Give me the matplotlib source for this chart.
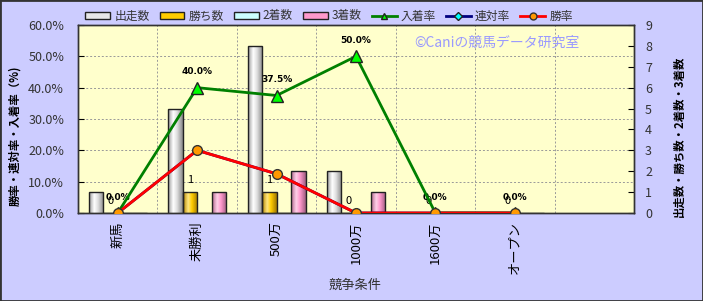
import numpy as np
import matplotlib
matplotlib.use("Agg")
import matplotlib.pyplot as plt
from matplotlib.patches import Rectangle
from matplotlib.lines import Line2D
from matplotlib.colors import LinearSegmentedColormap

plt.rcParams['font.family'] = ['Noto Sans CJK JP', 'DejaVu Sans']

# データ
categories = ['新馬', '未勝利', '500万', '1000万', '1600万', 'オープン', '']
starts = [1, 5, 8, 2, 0, 0, np.nan]
wins = [0, 1, 1, 0, 0, 0, np.nan]
seconds = [0, 0, 0, 0, 0, 0, np.nan]
thirds = [0, 1, 2, 1, 0, 0, np.nan]
place_rate = [0.0, 0.40, 0.375, 0.50, 0.0, 0.0, np.nan]
rentai_rate = [0.0, 0.20, 0.125, 0.0, 0.0, 0.0, np.nan]
win_rate = [0.0, 0.20, 0.125, 0.0, 0.0, 0.0, np.nan]

bg_fig = '#CCCCFF'
bg_plot = '#FFFFCC'

fig = plt.figure(figsize=(7.03, 3.01), dpi=100, facecolor=bg_fig)
ax = fig.add_axes([78 / 703, 1 - 213 / 301, (634 - 78) / 703, (213 - 25) / 301])
ax.set_facecolor(bg_plot)
ax2 = ax.twinx()
x = np.arange(len(categories))
w = 0.183

# 棒グラフ（右軸：件数） 円柱っぽいグラデーション
bar_specs = [
    (starts, ['#9A9A9A', '#FFFFFF', '#E0E0E0', '#8A8A8A'], -1.5),
    (wins, ['#B38600', '#FFE680', '#FFCC00', '#A07800'], -0.5),
    (seconds, ['#80B3B3', '#F0FFFF', '#CCFFFF', '#80A0A0'], 0.5),
    (thirds, ['#B3668C', '#FFD0E8', '#FF99CC', '#A05C80'], 1.5),
]
grad = np.linspace(0, 1, 64).reshape(1, -1)
for vals, cols, off in bar_specs:
    cmap = LinearSegmentedColormap.from_list('bar', list(zip([0, 0.35, 0.6, 1], cols)))
    bars = ax.bar(x + off * w, vals, width=w, facecolor='none', edgecolor='#222222',
                  linewidth=1.0, zorder=4)
    for p in bars:
        bx, by, bw, bh = p.get_x(), p.get_y(), p.get_width(), p.get_height()
        if np.isnan(bh) or bh <= 0:
            continue
        im = ax.imshow(grad, cmap=cmap, extent=[bx, bx + bw, by, by + bh], aspect='auto',
                       interpolation='bilinear', zorder=3)
        im.set_clip_path(p)

ax.set_xlim(-0.5, len(categories) - 0.5)
ax.set_ylim(0, 9)
ax.set_yticks(range(10))
ax.yaxis.tick_right()
ax.tick_params(axis='y', direction='in', length=4, labelsize=9, labelcolor='#333333', pad=8)

# グリッド
for g in np.arange(1.5, 9, 1.5):
    ax.axhline(g, color='#999999', linestyle=(0, (2, 2)), linewidth=0.7, zorder=1)
for b in np.arange(0.5, len(categories) - 0.5, 1):
    ax.axvline(b, color='#999999', linestyle=(0, (2, 2)), linewidth=0.7, zorder=1)

ax.set_xticks(x)
ax.set_xticklabels(categories, rotation=90, fontsize=9.5, va='top', ha='center')
ax.tick_params(axis='x', length=0, pad=6)

for v, xi in zip(wins, x):
    if not np.isnan(v):
        ax.annotate(str(int(v)), (xi - 0.5 * w, v), xytext=(0, 9), textcoords='offset points',
                    ha='center', va='center', fontsize=8, zorder=6)

# 折れ線（左軸：率）
ax2.set_ylim(0, 0.6)
ax2.set_yticks(np.arange(0, 0.61, 0.1))
ax2.set_yticklabels([f'{t * 100:.1f}%' for t in np.arange(0, 0.61, 0.1)])
ax2.yaxis.tick_left()
ax2.tick_params(axis='y', direction='in', length=4, labelsize=9, labelcolor='#333333', pad=10)

ax2.plot(x, rentai_rate, color='#000080', linewidth=2, marker='D', markersize=5,
         markerfacecolor='#00FFFF', markeredgecolor='#222222', zorder=4)
ax2.plot(x, place_rate, color='#008000', linewidth=2, marker='^', markersize=8,
         markerfacecolor='#00FF00', markeredgecolor='#222222', zorder=5)
ax2.plot(x, win_rate, color='#FF0000', linewidth=2, marker='o', markersize=7,
         markerfacecolor='#FF9900', markeredgecolor='#333333', zorder=6)

for v, xi in zip(place_rate, x):
    if not np.isnan(v):
        ax2.annotate(f'{v * 100:.1f}%', (xi, v), xytext=(0, 11.5), textcoords='offset points',
                     ha='center', va='center', fontsize=6.5, fontweight='bold', family='DejaVu Sans')

for a in (ax, ax2):
    for s in a.spines.values():
        s.set_color('#333333')
        s.set_linewidth(1.0)

# 軸タイトル
fig.text(15 / 703, 1 - 136 / 301, '勝率・連対率・入着率（%)', fontsize=8.2, fontweight='bold',
         rotation=90, ha='center', va='center')
fig.text(679 / 703, 1 - 136 / 301, '出走数・勝ち数・2着数・3着数', fontsize=8.2, fontweight='bold',
         rotation=90, ha='center', va='center')
fig.text(355 / 703, 1 - 285 / 301, '競争条件', fontsize=9.5, color='#333333', ha='center', va='center')

fig.text(497 / 703, 1 - 43 / 301, '©Caniの競馬データ研究室', color='#9999FF', fontsize=10,
         ha='center', va='center')

# 凡例
handles = [
    Rectangle((0, 0), 1, 1, facecolor='#E8E8E8', edgecolor='#222222'),
    Rectangle((0, 0), 1, 1, facecolor='#FFCC00', edgecolor='#222222'),
    Rectangle((0, 0), 1, 1, facecolor='#CCFFFF', edgecolor='#222222'),
    Rectangle((0, 0), 1, 1, facecolor='#FF99CC', edgecolor='#222222'),
    Line2D([], [], color='#008000', linewidth=2, marker='^', markersize=5,
           markerfacecolor='#00FF00', markeredgecolor='#222222'),
    Line2D([], [], color='#000080', linewidth=2, marker='D', markersize=4,
           markerfacecolor='#00FFFF', markeredgecolor='#222222'),
    Line2D([], [], color='#FF0000', linewidth=2, marker='o', markersize=5,
           markerfacecolor='#FF9900', markeredgecolor='#333333'),
]
labels = ['出走数', '勝ち数', '2着数', '3着数', '入着率', '連対率', '勝率']
fig.legend(handles, labels, loc='center', bbox_to_anchor=(329 / 703, 1 - 16 / 301), ncol=7,
           frameon=False, fontsize=8.5, handlelength=2.1, handleheight=0.5, handletextpad=0.35,
           columnspacing=0.85, labelcolor='#333333')

fig.patches.append(Rectangle((0, 0), 1, 1, transform=fig.transFigure, fill=False,
                             edgecolor='#333333', linewidth=2))

fig.savefig('out.png', dpi=100, facecolor=bg_fig)
